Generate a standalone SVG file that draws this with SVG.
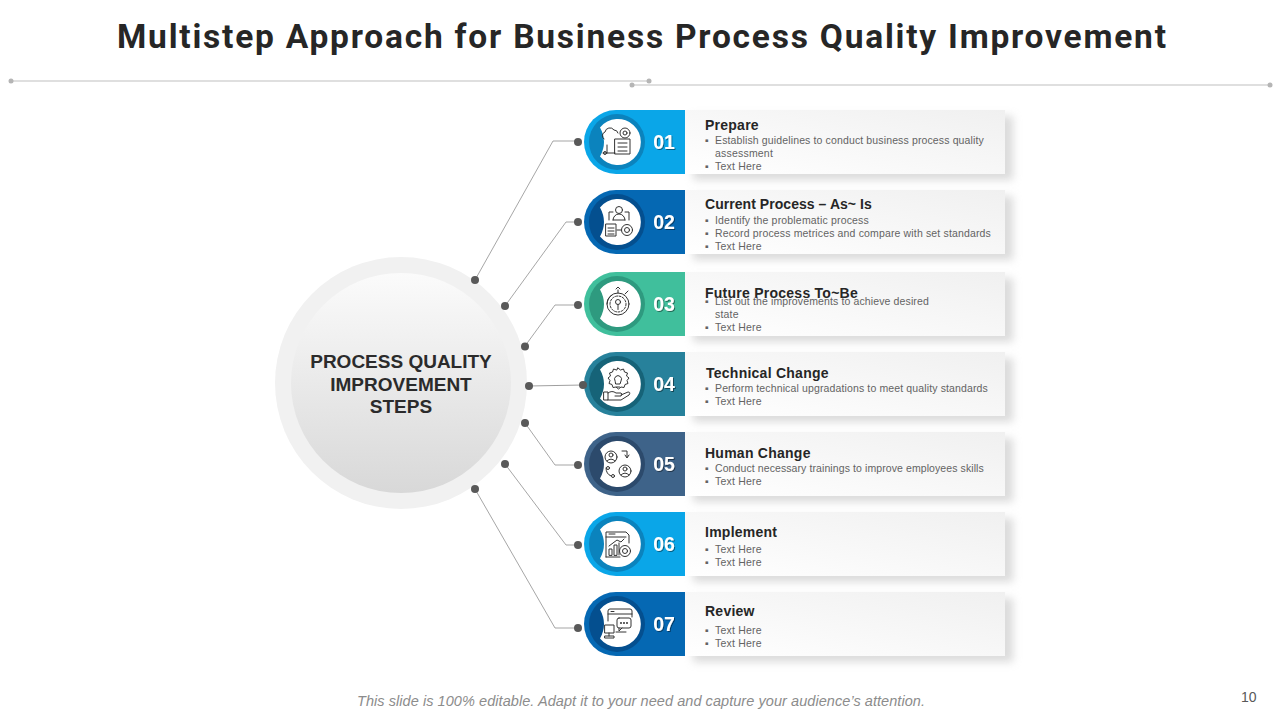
<svg xmlns="http://www.w3.org/2000/svg" width="1280" height="720" viewBox="0 0 1280 720">
<style>
text{font-family:"Liberation Sans",Arial,sans-serif}
.title{font-family:Roboto,"Liberation Sans",sans-serif;font-weight:700;font-size:33.5px;fill:#262626}
.h{font-weight:700;font-size:14px;fill:#262626;letter-spacing:.25px}
.b{font-size:10.5px;fill:#636363;letter-spacing:.2px}
.n{font-weight:700;font-size:19.5px;fill:#fff;text-anchor:middle;filter:url(#ts)}
.c{font-weight:700;font-size:19px;fill:#2b2b2b;text-anchor:middle}
.conn{fill:none;stroke:#808080;stroke-width:.7}
.dot{fill:#595959}
.rule{stroke:#bfbfbf;stroke-width:1.2}
.rd{fill:#b5b5b5}
.i{fill:none;stroke:#333;stroke-width:1;stroke-linejoin:round;stroke-linecap:round}
</style>
<defs>
<linearGradient id="card" x1="0" y1="1" x2="1" y2="0"><stop offset="0" stop-color="#fff"/><stop offset="1" stop-color="#f0f0f0"/></linearGradient>
<linearGradient id="disc" x1="0" y1="0" x2="0" y2="1"><stop offset="0" stop-color="#fbfbfb"/><stop offset="1" stop-color="#d8d8d8"/></linearGradient>
<filter id="sh" x="-10%" y="-30%" width="125%" height="170%"><feGaussianBlur stdDeviation="4.500"/></filter>
<filter id="ts" x="-30%" y="-30%" width="160%" height="160%"><feDropShadow dx="1" dy="1" stdDeviation=".6" flood-color="#000" flood-opacity=".45"/></filter>
<path id="tab" d="M101 0H32A32 32 0 0 0 32 64H101Z"/>
<path id="face" fill="#fff" d="M-16-14.500A23 23 0 1 1-16 14.500Q-8 0-16-14.500Z"/>
<g id="cardbox">
<rect x="8" y="6" width="320" height="64" fill="#b8b8b8" opacity=".5" filter="url(#sh)"/>
<rect x="0" y="0" width="320" height="64" fill="url(#card)"/>
</g>
</defs>
<rect width="1280" height="720" fill="#fff"/>

<text class="title" x="117" y="48" textLength="1049" lengthAdjust="spacing">Multistep Approach for Business Process Quality Improvement</text>
<g id="rules">
<line class="rule" x1="11" y1="81" x2="649" y2="81"/><circle class="rd" cx="11" cy="81" r="2.500"/><circle class="rd" cx="649" cy="81" r="2.500"/>
<line class="rule" x1="632" y1="85" x2="1270" y2="85"/><circle class="rd" cx="632" cy="85" r="2.500"/><circle class="rd" cx="1270" cy="85" r="2.500"/>
</g>

<g id="hub">
<circle cx="401" cy="383" r="126" fill="#f1f1f1"/>
<circle cx="401" cy="383" r="110" fill="url(#disc)"/>
<text class="c" x="401" y="368">PROCESS QUALITY</text>
<text class="c" x="401" y="391">IMPROVEMENT</text>
<text class="c" x="401" y="413">STEPS</text>
</g>

<g id="step1" transform="translate(584 110)">
<use href="#cardbox" x="101"/>
<use href="#tab" fill="#0aa6e8"/><circle cx="33" cy="32" r="28" fill="#0b83bd"/>
<use href="#face" x="32" y="32"/>
<g class="i" transform="translate(34 32)"><path d="M-14-3a4 4 0 0 1 1-7a5 5 0 0 1 9-2a4 4 0 0 1 4 3"/><circle cx="7" cy="-9" r="5"/><circle cx="7" cy="-9" r="2"/><rect x="-3" y="-3" width="15" height="15"/><path d="M0 1h9M0 5h9M0 9h9M-15 11h12M-11 3v8"/><circle cx="-13" cy="11" r="1.500"/></g>
<text class="n" x="80" y="39">01</text>
<text class="h" x="121" y="20">Prepare</text>
<text class="b" x="121" y="34">▪</text><text class="b" x="131" y="34" textLength="269">Establish guidelines to conduct business process quality</text>
<text class="b" x="131" y="47">assessment</text>
<text class="b" x="121" y="60">▪</text><text class="b" x="131" y="60">Text Here</text>
</g>

<g id="step2" transform="translate(584 190)">
<use href="#cardbox" x="101"/>
<use href="#tab" fill="#0568b3"/><circle cx="33" cy="32" r="28" fill="#044f8f"/>
<use href="#face" x="32" y="32"/>
<g class="i" transform="translate(34 32)"><circle cx="1" cy="-12" r="3.500"/><path d="M-5-2a6 6 0 0 1 12 0M-5-2h12M-9-2v-8h4M11-2v-8h-4"/><rect x="-12" y="2" width="10" height="12"/><path d="M-10 6h6M-10 9h6M-10 12h6M-1 8h4"/><circle cx="9" cy="8" r="5.500"/><circle cx="9" cy="8" r="2.500"/></g>
<text class="n" x="80" y="39">02</text>
<text class="h" x="121" y="19" style="letter-spacing:.05px">Current Process – As~ Is</text>
<text class="b" x="121" y="34">▪</text><text class="b" x="131" y="34" textLength="154">Identify the problematic process</text>
<text class="b" x="121" y="47">▪</text><text class="b" x="131" y="47" textLength="276">Record process metrices and compare with set standards</text>
<text class="b" x="121" y="60">▪</text><text class="b" x="131" y="60">Text Here</text>
</g>

<g id="step3" transform="translate(584 272)">
<use href="#cardbox" x="101"/>
<use href="#tab" fill="#40bf9c"/><circle cx="33" cy="32" r="28" fill="#2e9a7f"/>
<use href="#face" x="32" y="32"/>
<g class="i" transform="translate(34 32)"><circle r="11"/><circle r="8" stroke-dasharray="2 1.500"/><circle cy="-2" r="2.500"/><path d="M0 .5v5M0 -11v-3M-2-15l2-2 2 2M7-10l3-3"/><path d="M-11 0a11 11 0 0 1 5-9"/></g>
<text class="n" x="80" y="39">03</text>
<text class="h" x="121" y="26">Future Process To~Be</text>
<text class="b" x="121" y="33">▪</text><text class="b" x="131" y="33" textLength="214">List out the improvements to achieve desired</text>
<text class="b" x="131" y="46">state</text>
<text class="b" x="121" y="59">▪</text><text class="b" x="131" y="59">Text Here</text>
</g>

<g id="step4" transform="translate(584 352)">
<use href="#cardbox" x="101"/>
<use href="#tab" fill="#27819b"/><circle cx="33" cy="32" r="28" fill="#166378"/>
<use href="#face" x="32" y="32"/>
<g class="i" transform="translate(34 32)"><path d="M0-16l2.500 2 3-1 1 3 3 1-1 3 2.500 2-2 2.500 1 3-3 1-1 3-3-.5-2.500 2-2.500-2-3 .5-1-3-3-1 1-3-2-2.500 2.500-2-1-3 3-1 1-3 3 1Z"/><path d="M-3-3a3.500 3.500 0 1 1 6 0l-1 3h-4ZM-1.500 3h3"/><path d="M-14 8h4v8h-4ZM-10 9q4-3 8 0h5q2 1 0 3h-6M3 11l7-3q3 0 1 3l-8 5h-13"/></g>
<text class="n" x="80" y="39">04</text>
<text class="h" x="122" y="26">Technical Change</text>
<text class="b" x="121" y="40">▪</text><text class="b" x="131" y="40" textLength="273">Perform technical upgradations to meet quality standards</text>
<text class="b" x="121" y="53">▪</text><text class="b" x="131" y="53">Text Here</text>
</g>

<g id="step5" transform="translate(584 432)">
<use href="#cardbox" x="101"/>
<use href="#tab" fill="#3e6389"/><circle cx="33" cy="32" r="28" fill="#2c4a6c"/>
<use href="#face" x="32" y="32"/>
<g class="i" transform="translate(34 32)"><circle cx="-7" cy="-7" r="6"/><circle cx="-7" cy="-9" r="2"/><path d="M-11-3q4-4 8 0"/><circle cx="7" cy="7" r="6"/><circle cx="7" cy="5" r="2"/><path d="M3 11q4-4 8 0"/><path d="M4-13h5v6M7-9l2 3 2-3M-12 4q0 6 5 8"/><circle cx="-10" cy="4" r="1.500"/><circle cx="-5" cy="12" r="1.500"/></g>
<text class="n" x="80" y="39">05</text>
<text class="h" x="121" y="26">Human Change</text>
<text class="b" x="121" y="40">▪</text><text class="b" x="131" y="40" textLength="269">Conduct necessary trainings to improve employees skills</text>
<text class="b" x="121" y="53">▪</text><text class="b" x="131" y="53">Text Here</text>
</g>

<g id="step6" transform="translate(584 512)">
<use href="#cardbox" x="101"/>
<use href="#tab" fill="#0aa6e8"/><circle cx="33" cy="32" r="28" fill="#0b83bd"/>
<use href="#face" x="32" y="32"/>
<g class="i" transform="translate(34 32)"><path d="M-12 13v-25h20l3 3v8"/><path d="M-12-7h20M-9-10h6M-9 11V5h3v6ZM-4 11V1h3v10ZM1 11V-1M-9 2l8-6 4 2 3-3"/><circle cx="7" cy="7" r="5.500"/><circle cx="7" cy="7" r="2.500"/><path d="M-12 13h14"/></g>
<text class="n" x="80" y="39">06</text>
<text class="h" x="121" y="25">Implement</text>
<text class="b" x="121" y="41">▪</text><text class="b" x="131" y="41">Text Here</text>
<text class="b" x="121" y="54">▪</text><text class="b" x="131" y="54">Text Here</text>
</g>

<g id="step7" transform="translate(584 592)">
<use href="#cardbox" x="101"/>
<use href="#tab" fill="#0568b3"/><circle cx="33" cy="32" r="28" fill="#044f8f"/>
<use href="#face" x="32" y="32"/>
<g class="i" transform="translate(34 32)"><path d="M-10 -3v-10a2 2 0 0 1 2-2h20a2 2 0 0 1 2 2v6M-10-10h24M-7-12.500h3"/><rect x="-1" y="-6" width="14" height="10" rx="2"/><path d="M1 4v3l3-3"/><path d="M3-1h0M6-1h0M9-1h0" stroke-width="2"/><rect x="-13" y="1" width="9" height="8"/><path d="M-9 9v3M-13 14h9v-2h-9ZM-2 8h10"/></g>
<text class="n" x="80" y="39">07</text>
<text class="h" x="121" y="24">Review</text>
<text class="b" x="121" y="42">▪</text><text class="b" x="131" y="42">Text Here</text>
<text class="b" x="121" y="55">▪</text><text class="b" x="131" y="55">Text Here</text>
</g>

<g id="connectors">
<path class="conn" d="M475 280L553 141H578"/>
<path class="conn" d="M505 306L566 222H578"/>
<path class="conn" d="M525 346L555 305H578"/>
<path class="conn" d="M529 386L583 385" style="stroke:#a0a0a0;stroke-width:1.200"/>
<path class="conn" d="M525 423L555 465H578"/>
<path class="conn" d="M505 464L566 545H578"/>
<path class="conn" d="M475 489L555 628H578"/>
<g class="dot">
<circle cx="475" cy="280" r="4"/><circle cx="505" cy="306" r="4"/><circle cx="525" cy="346.500" r="4"/><circle cx="529" cy="386" r="4"/><circle cx="525" cy="423" r="4"/><circle cx="505" cy="464" r="4"/><circle cx="475" cy="489" r="4"/>
<circle cx="578" cy="142" r="4"/><circle cx="578" cy="222" r="4"/><circle cx="578" cy="305" r="4"/><circle cx="583" cy="385" r="4"/><circle cx="578" cy="465" r="4"/><circle cx="578" cy="545" r="4"/><circle cx="578" cy="628" r="4"/>
</g>
</g>

<text x="357" y="706" font-size="14.500" font-style="italic" fill="#8c8c8c" textLength="568">This slide is 100% editable. Adapt it to your need and capture your audience’s attention.</text>
<text x="1241" y="702" font-size="14" fill="#595959">10</text>
</svg>
